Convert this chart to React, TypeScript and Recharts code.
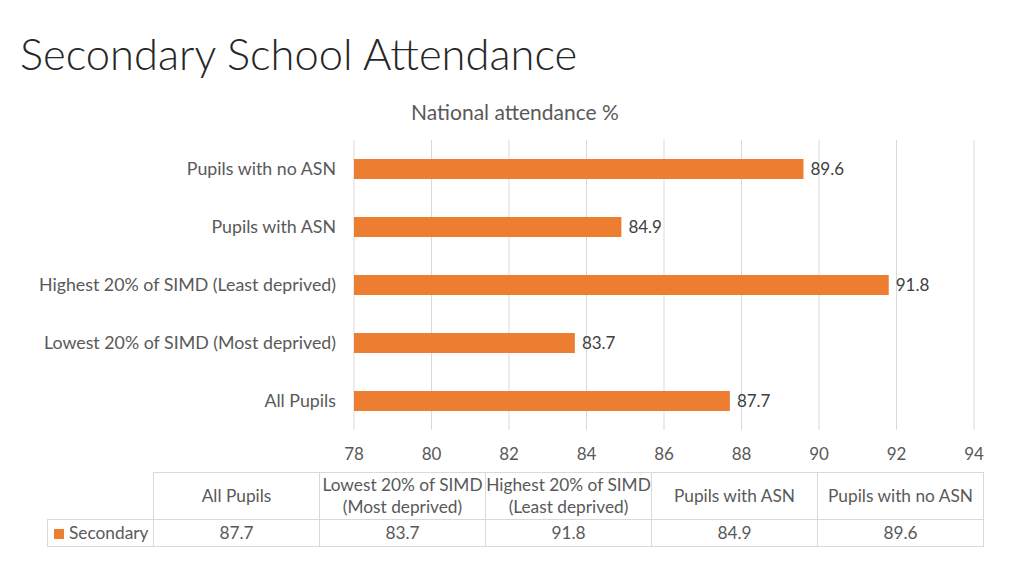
import { BarChart, Bar, XAxis, YAxis, CartesianGrid, LabelList } from "recharts";

const ORANGE = "#ED7D31";
const TEXT = "#595959";
const FONT = "Lato, 'Open Sans', sans-serif";

const categories = [
  "All Pupils",
  "Lowest 20% of SIMD (Most deprived)",
  "Highest 20% of SIMD (Least deprived)",
  "Pupils with ASN",
  "Pupils with no ASN",
];
const secondary = [87.7, 83.7, 91.8, 84.9, 89.6];
const xTicks = [78, 80, 82, 84, 86, 88, 90, 92, 94];

const data = categories.map((c, i) => ({ name: c, secondary: secondary[i] }));

const cell: React.CSSProperties = {
  border: "1px solid #d9d9d9",
  textAlign: "center",
  padding: 0,
  color: TEXT,
  fontSize: 17.3,
  lineHeight: "22px",
};

export default function App() {
  return (
    <div
      style={{
        position: "absolute",
        left: 0,
        top: 0,
        width: 1024,
        height: 576,
        background: "#fff",
        fontFamily: FONT,
        overflow: "hidden",
      }}
    >
      <div
        style={{
          position: "absolute",
          left: 20,
          top: 25,
          fontSize: 43.5,
          fontWeight: 300,
          color: "#262626",
          lineHeight: "56px",
          whiteSpace: "nowrap",
        }}
      >
        Secondary School Attendance
      </div>
      <div
        style={{
          position: "absolute",
          left: 0,
          width: 1030,
          top: 99,
          textAlign: "center",
          fontSize: 21,
          color: TEXT,
        }}
      >
        National attendance %
      </div>
      <div style={{ position: "absolute", left: 0, top: 0 }}>
        <BarChart
          width={1024}
          height={470}
          data={data}
          layout="vertical"
          margin={{ top: 140, right: 50, left: 0, bottom: 0 }}
          barCategoryGap={19}
        >
          <CartesianGrid horizontal={false} stroke="#d9d9d9" />
          <XAxis
            type="number"
            domain={[78, 94]}
            ticks={xTicks}
            axisLine={false}
            tickLine={false}
            height={40}
            tickMargin={12}
            tick={{ fontSize: 17, fill: TEXT, fontFamily: FONT }}
          />
          <YAxis
            type="category"
            dataKey="name"
            reversed
            width={354}
            axisLine={false}
            tickLine={false}
            tickMargin={12}
            tick={{ fontSize: 17.8, fill: TEXT, fontFamily: FONT }}
          />
          <Bar dataKey="secondary" fill={ORANGE} barSize={20} isAnimationActive={false}>
            <LabelList
              dataKey="secondary"
              position="right"
              offset={7}
              style={{ fontSize: 17, fill: "#404040", fontFamily: FONT }}
            />
          </Bar>
        </BarChart>
      </div>
      <table
        style={{
          position: "absolute",
          left: 47,
          top: 472,
          borderCollapse: "collapse",
          fontFamily: FONT,
          tableLayout: "fixed",
        }}
      >
        <colgroup>
          <col style={{ width: 106 }} />
          {categories.map((c) => (
            <col key={c} style={{ width: 166 }} />
          ))}
        </colgroup>
        <tbody>
          <tr style={{ height: 47 }}>
            <td style={{ border: "none" }} />
            {categories.map((c) => (
              <td key={c} style={cell}>
                {c}
              </td>
            ))}
          </tr>
          <tr style={{ height: 27 }}>
            <td style={{ ...cell, textAlign: "left", paddingLeft: 6, whiteSpace: "nowrap" }}>
              <span
                style={{
                  display: "inline-block",
                  width: 10,
                  height: 10,
                  background: ORANGE,
                  marginRight: 5,
                }}
              />
              Secondary
            </td>
            {secondary.map((v, i) => (
              <td key={i} style={cell}>
                {v}
              </td>
            ))}
          </tr>
        </tbody>
      </table>
    </div>
  );
}
